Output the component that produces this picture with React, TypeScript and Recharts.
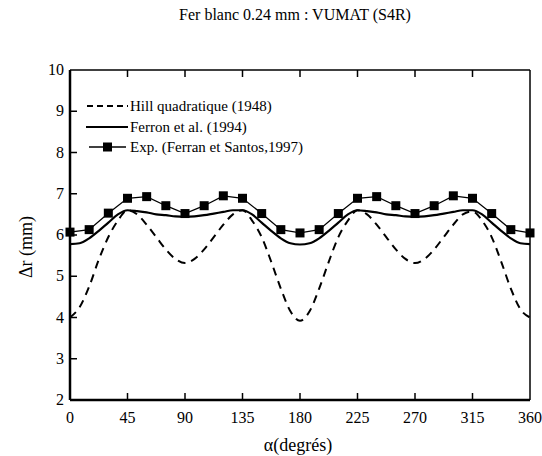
import React from 'react';
import { LineChart, Line, XAxis, YAxis } from 'recharts';

const angles = [0, 7.5, 15, 22.5, 30, 37.5, 45, 52.5, 60, 67.5, 75, 82.5, 90, 97.5, 105, 112.5, 120, 127.5, 135, 142.5, 150, 157.5, 165, 172.5, 180, 187.5, 195, 202.5, 210, 217.5, 225, 232.5, 240, 247.5, 255, 262.5, 270, 277.5, 285, 292.5, 300, 307.5, 315, 322.5, 330, 337.5, 345, 352.5, 360];

const hill = [4.0, 4.25, 4.75, 5.4, 5.95, 6.35, 6.6, 6.5, 6.25, 5.95, 5.65, 5.42, 5.32, 5.42, 5.65, 5.95, 6.25, 6.5, 6.6, 6.35, 5.95, 5.35, 4.7, 4.15, 3.92, 4.15, 4.7, 5.35, 5.95, 6.35, 6.6, 6.5, 6.25, 5.95, 5.65, 5.42, 5.32, 5.42, 5.65, 5.95, 6.25, 6.5, 6.57, 6.35, 5.95, 5.35, 4.7, 4.2, 4.0];

const ferron = [5.78, 5.8, 5.92, 6.1, 6.3, 6.5, 6.6, 6.58, 6.55, 6.5, 6.48, 6.45, 6.44, 6.45, 6.48, 6.52, 6.56, 6.6, 6.6, 6.5, 6.3, 6.1, 5.92, 5.8, 5.77, 5.8, 5.92, 6.1, 6.3, 6.5, 6.6, 6.58, 6.55, 6.5, 6.48, 6.45, 6.44, 6.45, 6.48, 6.52, 6.56, 6.6, 6.6, 6.5, 6.3, 6.1, 5.92, 5.8, 5.78];

const expAngles = [0, 15, 30, 45, 60, 75, 90, 105, 120, 135, 150, 165, 180, 195, 210, 225, 240, 255, 270, 285, 300, 315, 330, 345, 360];
const expValues = [6.07, 6.13, 6.53, 6.89, 6.93, 6.71, 6.52, 6.71, 6.95, 6.89, 6.52, 6.13, 6.05, 6.13, 6.52, 6.89, 6.93, 6.71, 6.52, 6.71, 6.95, 6.89, 6.52, 6.13, 6.05];

const xTicks = [0, 45, 90, 135, 180, 225, 270, 315, 360];
const yTicks = [2, 3, 4, 5, 6, 7, 8, 9, 10];

const title = 'Fer blanc 0.24 mm : VUMAT (S4R)';
const xTitle = 'α(degrés)';
const yTitle = 'Δr (mm)';
const legendNames = ['Hill quadratique (1948)', 'Ferron et al. (1994)', 'Exp. (Ferran et Santos,1997)'];

const data = angles.map((a, i) => {
  const j = expAngles.indexOf(a);
  return { a, hill: hill[i], ferron: ferron[i], exp: j >= 0 ? expValues[j] : null };
});

const FONT = "'Liberation Serif'";

const BottomTick = (p: any) => (
  <g>
    {p.payload.value !== 0 && p.payload.value !== 360 && (
      <line x1={p.x} y1={400} x2={p.x} y2={393} stroke="#000" strokeWidth={1.5} />
    )}
    <text x={p.x} y={423} textAnchor="middle" style={{ fontFamily: FONT }} fontSize={16} fill="#000">
      {p.payload.value}
    </text>
  </g>
);

const TopTick = (p: any) =>
  p.payload.value !== 0 && p.payload.value !== 360 ? (
    <line x1={p.x} y1={70} x2={p.x} y2={77} stroke="#000" strokeWidth={1.5} />
  ) : (
    <g />
  );

const LeftTick = (p: any) => (
  <g>
    {p.payload.value !== 2 && p.payload.value !== 10 && (
      <line x1={70} y1={p.y} x2={77} y2={p.y} stroke="#000" strokeWidth={1.5} />
    )}
    <text x={64} y={p.y + 5} textAnchor="end" style={{ fontFamily: FONT }} fontSize={16} fill="#000">
      {p.payload.value}
    </text>
  </g>
);

const RightTick = (p: any) =>
  p.payload.value !== 2 && p.payload.value !== 10 ? (
    <line x1={530} y1={p.y} x2={523} y2={p.y} stroke="#000" strokeWidth={1.5} />
  ) : (
    <g />
  );

const SquareDot = (p: any) => {
  if (p.value == null || p.cx == null || p.cy == null) return <g key={p.key} />;
  return <rect key={p.key} x={p.cx - 4.5} y={p.cy - 4.5} width={9} height={9} fill="#000" />;
};

export default function App() {
  return (
    <div style={{ position: 'absolute', left: 0, top: 0, width: 542, height: 456, background: '#fff', fontFamily: FONT }}>
      <LineChart width={542} height={456} data={data} margin={{ top: 60, right: 2, bottom: 26, left: 0 }}>
        <XAxis dataKey="a" type="number" domain={[0, 360]} ticks={xTicks} height={30} tickSize={0} tickMargin={0}
          tickLine={false} axisLine={{ stroke: '#000', strokeWidth: 2.5 }} tick={<BottomTick />} interval={0} />
        <XAxis xAxisId="top" orientation="top" dataKey="a" type="number" domain={[0, 360]} ticks={xTicks} height={10}
          tickSize={0} tickMargin={0} tickLine={false} axisLine={{ stroke: '#000', strokeWidth: 1.5 }} tick={<TopTick />} interval={0} />
        <YAxis type="number" domain={[2, 10]} ticks={yTicks} width={70} tickSize={0} tickMargin={0} tickLine={false}
          axisLine={{ stroke: '#000', strokeWidth: 2.5 }} tick={<LeftTick />} interval={0} />
        <YAxis yAxisId="right" orientation="right" type="number" domain={[2, 10]} ticks={yTicks} width={10} tickSize={0}
          tickMargin={0} tickLine={false} axisLine={{ stroke: '#000', strokeWidth: 1.5 }} tick={<RightTick />} interval={0} />
        <Line dataKey="hill" type="monotone" stroke="#000" strokeWidth={2} strokeDasharray="8 6" dot={false} isAnimationActive={false} />
        <Line dataKey="ferron" type="monotone" stroke="#000" strokeWidth={2.2} dot={false} isAnimationActive={false} />
        <Line dataKey="exp" type="linear" stroke="#000" strokeWidth={1.3} connectNulls dot={<SquareDot />} isAnimationActive={false} />
      </LineChart>

      <div style={{ position: 'absolute', left: 0, top: 6, width: 590, textAlign: 'center', fontSize: 16, color: '#000' }}>{title}</div>
      <div style={{ position: 'absolute', left: 0, top: 435, width: 596, textAlign: 'center', fontSize: 18, color: '#000' }}>{xTitle}</div>
      <div style={{ position: 'absolute', left: 26, top: 247, width: 0, height: 0 }}>
        <div style={{ position: 'absolute', transform: 'translate(-50%, -50%) rotate(-90deg)', whiteSpace: 'nowrap', fontSize: 18, color: '#000' }}>{yTitle}</div>
      </div>

      <div style={{ position: 'absolute', left: 86, top: 96, fontSize: 15, color: '#000', lineHeight: '20.5px' }}>
        <div style={{ display: 'flex', alignItems: 'center' }}>
          <svg width={43} height={20}><line x1={1} y1={10} x2={42} y2={10} stroke="#000" strokeWidth={2} strokeDasharray="6 4" /></svg>
          <span style={{ marginLeft: 1 }}>{legendNames[0]}</span>
        </div>
        <div style={{ display: 'flex', alignItems: 'center' }}>
          <svg width={43} height={20}><line x1={0} y1={10} x2={42} y2={10} stroke="#000" strokeWidth={2} /></svg>
          <span style={{ marginLeft: 1 }}>{legendNames[1]}</span>
        </div>
        <div style={{ display: 'flex', alignItems: 'center' }}>
          <svg width={43} height={20}>
            <line x1={3} y1={10} x2={40} y2={10} stroke="#000" strokeWidth={1.3} />
            <rect x={17} y={5.5} width={9} height={9} fill="#000" />
          </svg>
          <span style={{ marginLeft: 1 }}>{legendNames[2]}</span>
        </div>
      </div>
    </div>
  );
}
